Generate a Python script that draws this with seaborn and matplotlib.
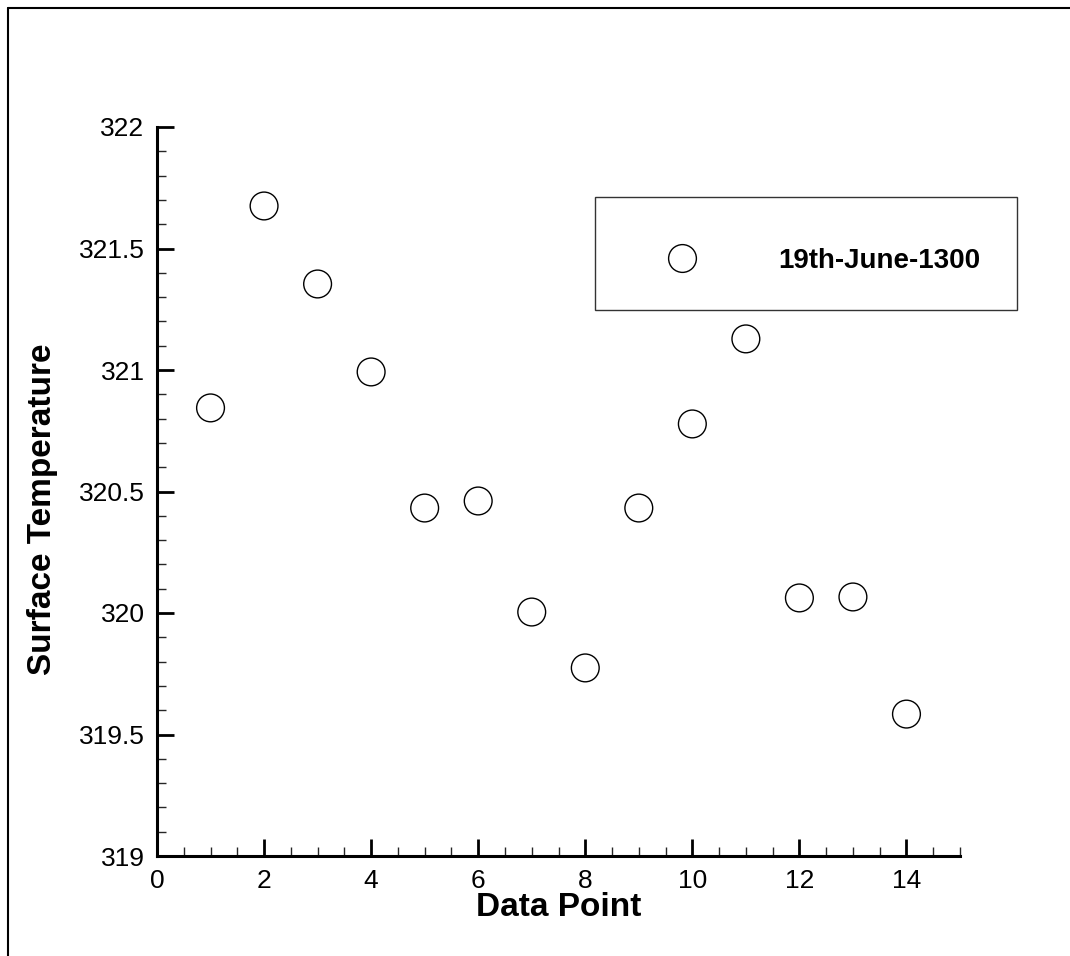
import numpy as np
import pandas as pd
import matplotlib
matplotlib.use("Agg")
import matplotlib.pyplot as plt
from matplotlib.lines import Line2D
from matplotlib.ticker import MultipleLocator
import seaborn as sns

data_point = [1, 2, 3, 4, 5, 6, 7, 8, 9, 10, 11, 12, 13, 14]
surface_temp = [320.844, 321.675, 321.354, 320.992, 320.432, 320.461, 320.004,
                319.774, 320.432, 320.778, 321.128, 320.062, 320.066, 319.584]
series_name = "19th-June-1300"

df = pd.DataFrame({"Data Point": data_point, "Surface Temperature": surface_temp,
                   "series": series_name})

sns.set_style("ticks")
plt.rcParams["font.family"] = ["Liberation Sans", "DejaVu Sans"]
plt.rcParams["text.color"] = "black"

fig = plt.figure(figsize=(10.7, 9.56), dpi=100)
ax = fig.add_axes([157/1070, 100/956, 803/1070, 729/956])

sns.scatterplot(data=df, x="Data Point", y="Surface Temperature", hue="series",
                palette=["white"], marker="o", s=400, edgecolor="black",
                linewidth=1.0, ax=ax, zorder=3, clip_on=False)

ax.set_xlim(0, 15)
ax.set_ylim(319, 322)
ax.xaxis.set_major_locator(MultipleLocator(2))
ax.xaxis.set_minor_locator(MultipleLocator(0.5))
ax.yaxis.set_minor_locator(MultipleLocator(0.1))
ax.set_yticks(np.arange(319, 322.01, 0.5))
ax.set_yticklabels(["319", "319.5", "320", "320.5", "321", "321.5", "322"])

ax.tick_params(which="major", direction="in", length=12, width=2, labelsize=19,
               pad=9, colors="black")
ax.tick_params(which="minor", direction="in", length=6.5, width=1)
for side in ["top", "right"]:
    ax.spines[side].set_visible(False)
for side in ["left", "bottom"]:
    ax.spines[side].set_linewidth(2.2)
    ax.spines[side].set_color("black")

ax.set_xlabel("Data Point", fontsize=24, fontweight="bold", labelpad=0, color="black")
ax.set_ylabel("Surface Temperature", fontsize=24, fontweight="bold", labelpad=15,
              color="black", y=0.475)

# blank title pushes the entry down a little, like the original box
leg = ax.legend(loc="upper left", bbox_to_anchor=(0.5454, 0.904), frameon=True,
                fancybox=False, edgecolor="black", borderaxespad=0,
                borderpad=1.3, handlelength=3.7, handletextpad=1.6,
                title=" ", title_fontsize=1, labelcolor="black",
                prop={"weight": "bold", "size": 20})
leg.get_frame().set_linewidth(1.0)
leg.set_zorder(5)

# page frame
fig.add_artist(Line2D([8/1070, 8/1070], [0, 1 - 8/956], color="black", lw=1.5))
fig.add_artist(Line2D([8/1070, 1], [1 - 8/956, 1 - 8/956], color="black", lw=1.5))

fig.savefig("out.png", dpi=100, facecolor="white")
